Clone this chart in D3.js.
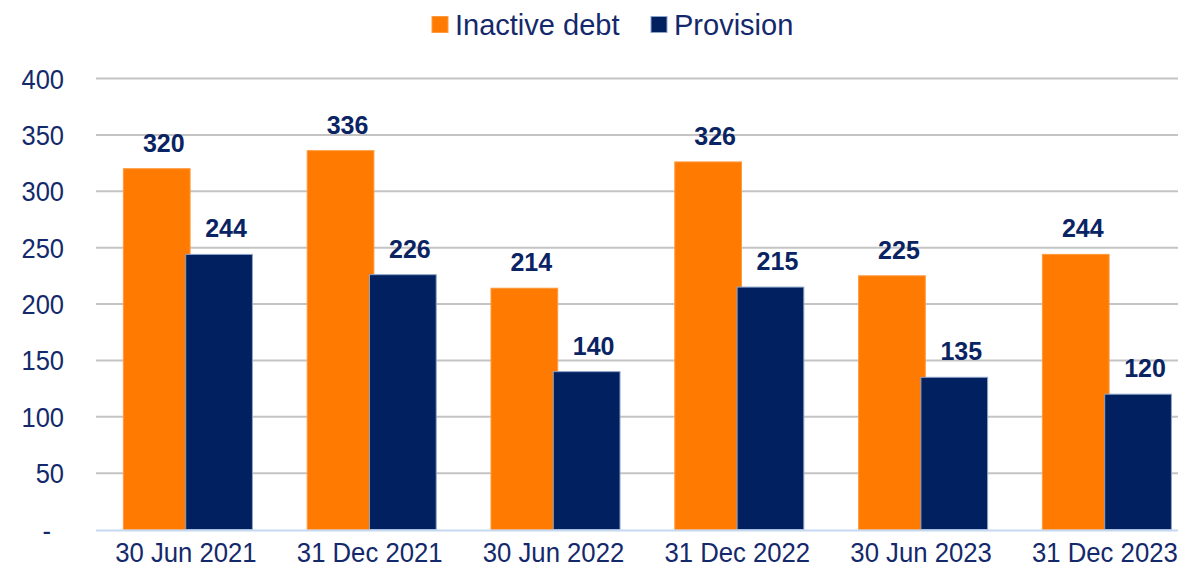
<!DOCTYPE html>
<html>
<head>
<meta charset="utf-8">
<script src="https://cdn.jsdelivr.net/npm/d3@7"></script>
<style>
  body { margin: 0; background: #fff; }
  svg { display: block; font-family: "Liberation Sans", Arial, sans-serif; }
</style>
</head>
<body>
<script>
const categories = ["30 Jun 2021", "31 Dec 2021", "30 Jun 2022", "31 Dec 2022", "30 Jun 2023", "31 Dec 2023"];
const seriesNames = ["Inactive debt", "Provision"];
const inactiveDebt = [320, 336, 214, 326, 225, 244];
const provision = [244, 226, 140, 215, 135, 120];
const yTicks = [0, 50, 100, 150, 200, 250, 300, 350, 400];

const w = 1178, h = 570;
const colors = ["#FF7A00", "#002060"];
const strokes = ["#FF9A3C", "#8EA4C8"];
const textColor = "#14296B";

const svg = d3.select("body").append("svg")
  .attr("width", w)
  .attr("height", h);

const x0 = d3.scaleBand()
  .domain(categories)
  .range([96, 96 + 6 * 183.8])
  .paddingInner(0.298)
  .paddingOuter(0.149);

const barW = x0.bandwidth() * 66.7 / 129;
const x1 = d3.scaleLinear().domain([0, 1]).range([0, x0.bandwidth() - barW]);

const y = d3.scaleLinear().domain([0, 400]).range([529.5, 78.5]);

// gridlines
svg.append("g")
  .selectAll("line")
  .data(yTicks.filter(d => d > 0))
  .enter()
  .append("line")
  .attr("x1", 96)
  .attr("x2", w)
  .attr("y1", d => y(d))
  .attr("y2", d => y(d))
  .attr("stroke", "#C4C4C4")
  .attr("stroke-width", 2);

// y labels
svg.append("g")
  .selectAll("text")
  .data(yTicks)
  .enter()
  .append("text")
  .attr("transform", d => "translate(" + (d === 0 ? 51 : 64) + "," + (y(d) + 10) + ") scale(1,1.1)")
  .attr("text-anchor", "end")
  .attr("fill", textColor)
  .style("font-size", "25.5px")
  .text(d => d === 0 ? "-" : d);

const series = [inactiveDebt, provision];

series.forEach(function(vals, si) {
  const g = svg.append("g");
  g.selectAll("rect")
    .data(vals)
    .enter()
    .append("rect")
    .attr("x", (d, i) => x0(categories[i]) + x1(si))
    .attr("y", d => y(d))
    .attr("width", barW)
    .attr("height", d => y(0) - y(d))
    .attr("fill", colors[si])
    .attr("stroke", strokes[si])
    .attr("stroke-width", 1);

  g.selectAll("text")
    .data(vals)
    .enter()
    .append("text")
    .attr("x", (d, i) => x0(categories[i]) + x1(si) + barW / 2 + 7)
    .attr("y", d => y(d) - 17)
    .attr("text-anchor", "middle")
    .attr("fill", "#0A2463")
    .style("font-size", "25px")
    .style("font-weight", "bold")
    .text(d => d);
});

// baseline
svg.append("line")
  .attr("x1", 96)
  .attr("x2", w)
  .attr("y1", y(0) + 1)
  .attr("y2", y(0) + 1)
  .attr("stroke", "#C6D9F1")
  .attr("stroke-width", 2);

// x labels
svg.append("g")
  .selectAll("text")
  .data(categories)
  .enter()
  .append("text")
  .attr("transform", d => "translate(" + (x0(d) + x0.bandwidth() / 2 - 2) + ",562) scale(1,1.05)")
  .attr("text-anchor", "middle")
  .attr("fill", textColor)
  .style("font-size", "25.7px")
  .text(d => d);

// legend
const legendX = [432, 651];
const legend = svg.append("g")
  .selectAll("g")
  .data(seriesNames)
  .enter()
  .append("g")
  .attr("transform", (d, i) => "translate(" + legendX[i] + ",0)");

legend.append("rect")
  .attr("x", 0)
  .attr("y", 16.5)
  .attr("width", 16)
  .attr("height", 16)
  .attr("fill", (d, i) => colors[i])
  .attr("stroke", (d, i) => strokes[i]);

legend.append("text")
  .attr("x", 23)
  .attr("y", 35)
  .attr("fill", textColor)
  .style("font-size", "29px")
  .text(d => d);
</script>
</body>
</html>
